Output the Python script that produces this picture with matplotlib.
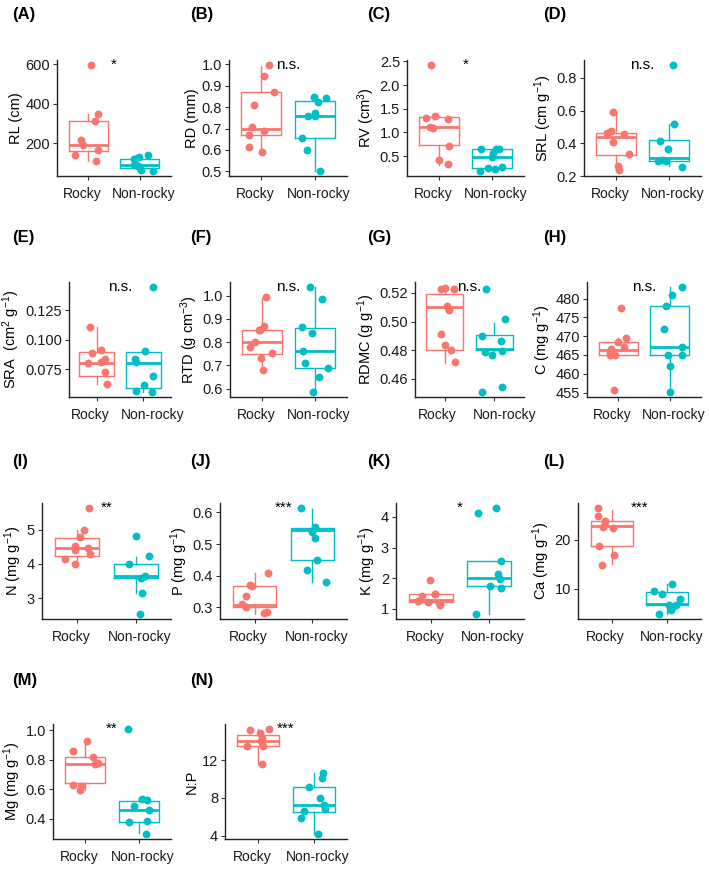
import numpy as np
import matplotlib.pyplot as plt
from matplotlib.transforms import ScaledTranslation

plt.rcParams['font.family'] = ['Liberation Sans', 'DejaVu Sans']
plt.rcParams['mathtext.fontset'] = 'custom'
plt.rcParams['mathtext.rm'] = 'Liberation Sans'
plt.rcParams['mathtext.default'] = 'regular'

groups = ["Rocky", "Non-rocky"]
colors = ["#F8766D", "#00BFC4"]

tags = ["(A)", "(B)", "(C)", "(D)", "(E)", "(F)", "(G)", "(H)",
        "(I)", "(J)", "(K)", "(L)", "(M)", "(N)"]
ylabels = ["RL (cm)", "RD (mm)", "RV (cm$^3$)", "SRL (cm g$^{-1}$)",
           "SRA  (cm$^2$ g$^{-1}$)", "RTD (g cm$^{-3}$)", "RDMC (g g$^{-1}$)",
           "C (mg g$^{-1}$)", "N (mg g$^{-1}$)", "P (mg g$^{-1}$)",
           "K (mg g$^{-1}$)", "Ca (mg g$^{-1}$)", "Mg (mg g$^{-1}$)", "N:P"]
signif = ["*", "n.s.", "*", "n.s.", "n.s.", "n.s.", "n.s.", "n.s.",
          "**", "***", "*", "***", "**", "***"]

# box stats are [whisker low, q1, median, q3, whisker high]
rl_rocky = [595, 346, 314, 217, 192, 166, 140, 108]
rl_non = [140, 128, 121, 118, 91, 84, 74, 62, 60]
rl_box = [[108, 161, 192, 314, 346], [60, 72, 91, 121, 140]]
rl_ticks = ["200", "400", "600"]

rd_rocky = [0.995, 0.945, 0.87, 0.81, 0.706, 0.69, 0.672, 0.612, 0.59]
rd_non = [0.848, 0.84, 0.825, 0.77, 0.76, 0.76, 0.655, 0.60, 0.503]
rd_box = [[0.59, 0.67, 0.70, 0.87, 0.99], [0.503, 0.656, 0.76, 0.83, 0.848]]
rd_ticks = ["0.5", "0.6", "0.7", "0.8", "0.9", "1.0"]

rv_rocky = [2.42, 1.35, 1.31, 1.28, 1.12, 1.09, 0.71, 0.42, 0.33]
rv_non = [0.66, 0.65, 0.64, 0.56, 0.49, 0.27, 0.25, 0.22, 0.19]
rv_box = [[0.32, 0.73, 1.12, 1.33, 1.35], [0.19, 0.25, 0.49, 0.66, 0.66]]
rv_ticks = ["0.5", "1.0", "1.5", "2.0", "2.5"]

srl_rocky = [0.59, 0.475, 0.46, 0.455, 0.41, 0.335, 0.26, 0.235]
srl_non = [0.877, 0.52, 0.415, 0.367, 0.30, 0.294, 0.29, 0.257]
srl_box = [[0.235, 0.33, 0.44, 0.46, 0.59], [0.26, 0.293, 0.313, 0.42, 0.52]]
srl_ticks = ["0.2", "0.4", "0.6", "0.8"]

sra_rocky = [0.111, 0.091, 0.089, 0.084, 0.081, 0.080, 0.073, 0.063]
sra_non = [0.1446, 0.0904, 0.0834, 0.081, 0.069, 0.062, 0.057, 0.056]
sra_box = [[0.063, 0.069, 0.080, 0.0895, 0.111], [0.056, 0.059, 0.080, 0.0895, 0.0905]]
sra_ticks = ["0.075", "0.100", "0.125"]

rtd_rocky = [0.993, 0.87, 0.853, 0.853, 0.80, 0.78, 0.753, 0.73, 0.68]
rtd_non = [1.036, 0.986, 0.863, 0.84, 0.761, 0.708, 0.69, 0.65, 0.586]
rtd_box = [[0.68, 0.75, 0.80, 0.85, 0.99], [0.586, 0.69, 0.76, 0.86, 1.036]]
rtd_ticks = ["0.6", "0.7", "0.8", "0.9", "1.0"]

rdmc_rocky = [0.5235, 0.523, 0.5225, 0.511, 0.508, 0.4916, 0.484, 0.480, 0.472]
rdmc_non = [0.523, 0.502, 0.490, 0.4866, 0.4795, 0.479, 0.477, 0.454, 0.451]
rdmc_box = [[0.471, 0.480, 0.510, 0.5195, 0.524], [0.4795, 0.480, 0.4806, 0.4905, 0.499]]
rdmc_ticks = ["0.46", "0.48", "0.50", "0.52"]

c_rocky = [477.4, 469.4, 468.4, 467.1, 466.6, 465.9, 464.9, 464.9, 455.8]
c_non = [483, 481, 477.9, 471.9, 467.1, 465, 465, 462, 455.2]
c_box = [[465.0, 465.0, 466.4, 468.4, 469.4], [455.2, 465.0, 467.1, 477.9, 483]]
c_ticks = ["455", "460", "465", "470", "475", "480"]

n_rocky = [5.63, 5.0, 4.79, 4.51, 4.47, 4.41, 4.28, 4.15, 3.99]
n_non = [4.82, 4.24, 4.0, 3.66, 3.6, 3.15, 2.54]
n_box = [[3.98, 4.22, 4.47, 4.77, 5.0], [3.15, 3.59, 3.64, 4.0, 4.2]]
n_ticks = ["3", "4", "5"]

p_rocky = [0.41, 0.372, 0.368, 0.335, 0.31, 0.30, 0.284, 0.281]
p_non = [0.613, 0.553, 0.539, 0.518, 0.45, 0.419, 0.379]
p_box = [[0.28, 0.30, 0.308, 0.368, 0.41], [0.379, 0.45, 0.544, 0.55, 0.61]]
p_ticks = ["0.3", "0.4", "0.5", "0.6"]

k_rocky = [1.95, 1.49, 1.47, 1.43, 1.25, 1.23, 1.20, 1.11]
k_non = [4.28, 4.14, 2.55, 2.14, 1.97, 1.76, 1.67, 0.84]
k_box = [[1.2, 1.22, 1.29, 1.49, 1.49], [0.84, 1.76, 2.0, 2.55, 2.55]]
k_ticks = ["1", "2", "3", "4"]

ca_rocky = [26.4, 24.9, 23.85, 23.5, 22.5, 22.4, 18.8, 16.8, 14.9]
ca_non = [11.0, 9.46, 9.0, 7.84, 6.6, 6.6, 6.3, 5.6, 4.93]
ca_box = [[15.1, 18.65, 22.8, 23.85, 26.0], [4.9, 6.6, 6.96, 9.3, 10.9]]
ca_ticks = ["10", "20"]

mg_rocky = [0.929, 0.86, 0.822, 0.778, 0.771, 0.633, 0.622, 0.593]
mg_non = [1.007, 0.538, 0.527, 0.49, 0.462, 0.389, 0.382, 0.30]
mg_box = [[0.593, 0.64, 0.773, 0.822, 0.92], [0.304, 0.378, 0.462, 0.522, 0.54]]
mg_ticks = ["0.4", "0.6", "0.8", "1.0"]

np_rocky = [15.3, 15.2, 14.9, 14.4, 14.1, 13.5, 13.5, 11.6]
np_non = [10.6, 10.1, 9.2, 8.0, 7.3, 6.8, 6.6, 5.9, 4.2]
np_box = [[11.6, 13.5, 14.1, 14.7, 15.3], [4.2, 6.5, 7.23, 9.2, 10.6]]
np_ticks = ["4", "8", "12"]

points = [(rl_rocky, rl_non), (rd_rocky, rd_non), (rv_rocky, rv_non), (srl_rocky, srl_non),
          (sra_rocky, sra_non), (rtd_rocky, rtd_non), (rdmc_rocky, rdmc_non), (c_rocky, c_non),
          (n_rocky, n_non), (p_rocky, p_non), (k_rocky, k_non), (ca_rocky, ca_non),
          (mg_rocky, mg_non), (np_rocky, np_non)]
boxes = [rl_box, rd_box, rv_box, srl_box, sra_box, rtd_box, rdmc_box, c_box,
         n_box, p_box, k_box, ca_box, mg_box, np_box]
yticks = [rl_ticks, rd_ticks, rv_ticks, srl_ticks, sra_ticks, rtd_ticks, rdmc_ticks, c_ticks,
          n_ticks, p_ticks, k_ticks, ca_ticks, mg_ticks, np_ticks]

# layout in pixels
W, H = 709, 869
col_right = [171, 347, 524, 701]
rows = [(60, 176), (282, 397), (503, 619), (724, 839)]
left_px = [57, 229, 407, 584, 69, 230, 415, 587, 42, 220, 396, 578, 53, 225]
tag_x = [12, 190, 367, 543]
tag_y = [15, 238, 462, 680]

fig = plt.figure(figsize=(W / 100, H / 100), dpi=100)
rng = np.random.default_rng(7)

for i in range(14):
    r, c = divmod(i, 4)
    top, bot = rows[r]
    l = left_px[i]
    ax = fig.add_axes([l / W, 1 - bot / H, (col_right[c] - l) / W, (bot - top) / H])

    stats = []
    for b in boxes[i]:
        stats.append(dict(whislo=b[0], q1=b[1], med=b[2], q3=b[3], whishi=b[4], fliers=[]))
    art = ax.bxp(stats, positions=[1, 2], widths=0.75, showfliers=False, showcaps=False,
                 patch_artist=False, manage_ticks=False)
    for g in range(2):
        col = colors[g]
        art['boxes'][g].set(color=col, linewidth=1.0)
        art['medians'][g].set(color=col, linewidth=2.0)
        for w in art['whiskers'][2 * g:2 * g + 2]:
            w.set(color=col, linewidth=1.0)

    allv = []
    for g in range(2):
        vals = np.array(points[i][g])
        jit = rng.uniform(-0.25, 0.25, len(vals))
        ax.scatter(1 + g + jit, vals, s=32, color=colors[g], linewidths=0, zorder=3)
        allv += list(vals) + boxes[i][g]
    lo, hi = min(allv), max(allv)
    pad = (hi - lo) * 0.05
    ax.set_ylim(lo - pad, hi + pad)
    ax.set_xlim(0.4, 2.6)

    ax.text(1.5, hi, signif[i], ha='center', va='center', fontsize=11)

    ax.set_yticks([float(t) for t in yticks[i]])
    ax.set_yticklabels(yticks[i])
    ax.set_xticks([1, 2])
    ax.set_xticklabels(groups)
    ax.tick_params(axis='both', length=3, width=0.8, colors='#333333',
                   labelcolor='#1a1a1a')
    ax.tick_params(axis='y', labelsize=10.5, pad=2)
    ax.tick_params(axis='x', labelsize=10, pad=5)
    ax.set_ylabel(ylabels[i], fontsize=10.5, labelpad=2)
    for s in ['top', 'right']:
        ax.spines[s].set_visible(False)
    for s in ['left', 'bottom']:
        ax.spines[s].set_linewidth(1.0)
        ax.spines[s].set_color('#222222')

    # group labels sit a little wider apart than the ticks in the reference
    shift = [-7, 10] if (col_right[c] - l) < 112 else [-6, 4]
    for lab, dx in zip(ax.get_xticklabels(), shift):
        lab.set_transform(lab.get_transform() + ScaledTranslation(dx / 100, 0, fig.dpi_scale_trans))

    fig.text(tag_x[c] / W, 1 - tag_y[r] / H, tags[i], ha='left', va='center',
             fontsize=12, fontweight='bold')

fig.savefig("out.png", dpi=100)
